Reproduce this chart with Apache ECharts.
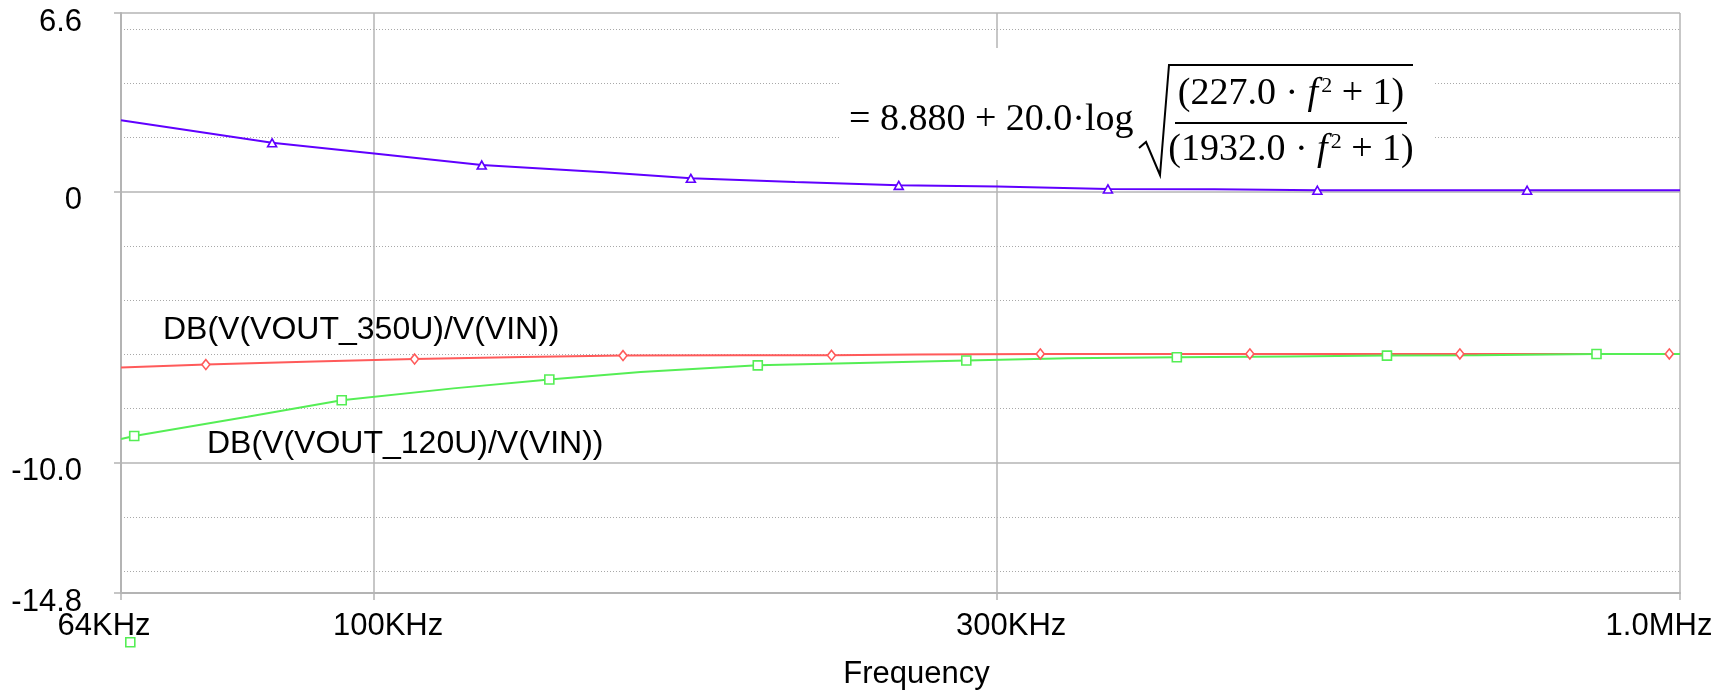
<!DOCTYPE html>
<html><head><meta charset="utf-8">
<script src="https://cdn.jsdelivr.net/npm/echarts@6/dist/echarts.min.js"></script>
<style>html,body{margin:0;padding:0;background:#fff}#c{width:1730px;height:693px}</style>
</head><body><div id="c"></div>
<script>
// ---- axis ticks ----
const xTickValues = [64000, 100000, 300000, 1000000];
const xTickLabels = ['64KHz', '100KHz', '300KHz', '1.0MHz'];
const yTickValues = [6.6, 0, -10, -14.8];
const yTickLabels = ['6.6', '0', '-10.0', '-14.8'];
const yMinorGrid = [6, 4, 2, -2, -4, -6, -8, -12, -14];

// ---- series data (frequency in Hz, value in dB) ----
const freqBlue = [64000, 83540, 100000, 120900, 150000, 174800, 210000, 252200, 300000, 364700, 440000, 527600, 640000, 763700, 1000000];
const valBlue  = [2.64, 1.81, 1.42, 0.99, 0.72, 0.50, 0.36, 0.24, 0.20, 0.11, 0.10, 0.06, 0.06, 0.06, 0.06];
const markBlue = [83540, 120900, 174800, 252200, 364700, 527600, 763700];

const freqRed = [64000, 74330, 90000, 107400, 130000, 155100, 190000, 224000, 260000, 323700, 468400, 678300, 981300, 1000000];
const valRed  = [-6.48, -6.37, -6.26, -6.17, -6.09, -6.04, -6.03, -6.03, -6.00, -5.98, -5.98, -5.98, -5.98, -5.98];
const markRed = [74330, 107400, 155100, 224000, 323700, 468400, 678300, 981300];

const freqGreen = [64000, 65510, 80000, 94450, 115000, 136200, 160000, 196700, 240000, 284100, 340000, 411800, 500000, 596500, 700000, 863100, 1000000];
const valGreen  = [-9.12, -9.01, -8.30, -7.69, -7.25, -6.92, -6.65, -6.40, -6.30, -6.22, -6.14, -6.10, -6.07, -6.04, -6.03, -5.98, -5.98];
const markGreen = [65510, 94450, 136200, 196700, 284100, 411800, 596500, 863100];

const nameBlue = '8.880 + 20.0·log sqrt((227.0·f²+1)/(1932.0·f²+1))';
const nameRed = 'DB(V(VOUT_350U)/V(VIN))';
const nameGreen = 'DB(V(VOUT_120U)/V(VIN))';

const FONT = '"Liberation Sans", Arial, sans-serif';
const SERIF = '"Liberation Serif", "Times New Roman", serif';
const GRID = '#b4b4b4';

function nearestIdx(v, arr, useLog) {
  let best = 0, bd = Infinity;
  arr.forEach((t, i) => {
    const d = useLog ? Math.abs(Math.log10(v) - Math.log10(t)) : Math.abs(v - t);
    if (d < bd) { bd = d; best = i; }
  });
  return best;
}

function mkSeries(name, freqs, vals, marks, color, symbol, size) {
  return {
    type: 'line', name,
    data: freqs.map((f, i) => [f, vals[i]]),
    showSymbol: true, showAllSymbol: true,
    symbol: (val) => marks.includes(val[0]) ? symbol : 'none',
    symbolSize: size,
    lineStyle: { color, width: 2 },
    itemStyle: { color: '#fff', borderColor: color, borderWidth: 1.6 },
    emphasis: { disabled: true },
    animation: false, z: 3
  };
}

const xShift = [[0, 34, 0, 0], [0, 0, 0, 28], [0, 0, 0, 28], [0, 42, 0, 0]];
const xRich = {};
xShift.forEach((p, i) => { xRich['l' + i] = { padding: p, fontSize: 31, fontFamily: FONT, color: '#000' }; });

const chart = echarts.init(document.getElementById('c'), null, { renderer: 'canvas' });
chart.setOption({
  animation: false,
  backgroundColor: '#fff',
  grid: { left: 121, right: 50, top: 13, bottom: 100, outerBoundsMode: 'none' },
  legend: {
    data: [nameGreen], left: 125, top: 637, itemWidth: 9, itemHeight: 9, icon: 'rect',
    formatter: () => '', selectedMode: false, padding: 0, itemGap: 0,
    itemStyle: { color: '#fff', borderColor: '#55ee55', borderWidth: 1.6 },
    textStyle: { fontSize: 1 }
  },
  xAxis: {
    type: 'log', logBase: 10, min: 64000, max: 1000000,
    axisLine: { show: true, onZero: false, lineStyle: { color: GRID, width: 2 } },
    axisTick: { show: true, inside: false, length: 7, customValues: xTickValues, lineStyle: { color: GRID, width: 1.5 } },
    axisLabel: {
      customValues: xTickValues, margin: 18, color: '#000', fontSize: 31, fontFamily: FONT,
      formatter: (v) => { const i = nearestIdx(v, xTickValues, true); return '{l' + i + '|' + xTickLabels[i] + '}'; },
      rich: xRich
    },
    splitLine: { show: true, lineStyle: { color: GRID, width: 1.5 } },
    minorTick: { show: false }, minorSplitLine: { show: false },
    name: 'Frequency', nameLocation: 'middle', nameGap: 66,
    nameTextStyle: { fontSize: 31, fontFamily: FONT, color: '#000', padding: [0, 0, 0, 32] }
  },
  yAxis: [{
    type: 'value', min: -14.8, max: 6.6,
    axisLine: { show: true, onZero: false, lineStyle: { color: GRID, width: 2 } },
    axisTick: { show: true, inside: false, length: 7, customValues: yTickValues, lineStyle: { color: GRID, width: 1.5 } },
    axisLabel: {
      customValues: yTickValues, margin: 39, color: '#000', fontSize: 31, fontFamily: FONT,
      formatter: (v) => '{a|' + yTickLabels[nearestIdx(v, yTickValues, false)] + '}',
      rich: { a: { padding: [18, 0, 0, 0], fontSize: 31, fontFamily: FONT, color: '#000' } }
    },
    splitLine: { show: true, lineStyle: { color: GRID, width: 1.5 } }
  }, {
    type: 'value', min: -14.8, max: 6.6, position: 'left',
    axisLine: { show: false },
    axisTick: { show: false, customValues: yMinorGrid },
    axisLabel: { show: false, customValues: yMinorGrid },
    splitLine: { show: true, lineStyle: { color: '#a8a8a8', width: 1, type: [1, 2] } }
  }],
  series: [
    mkSeries(nameBlue, freqBlue, valBlue, markBlue, '#6000ff', 'triangle', [9, 8]),
    mkSeries(nameRed, freqRed, valRed, markRed, '#ff5a5a', 'diamond', [8, 10]),
    mkSeries(nameGreen, freqGreen, valGreen, markGreen, '#55ee55', 'rect', [9, 9])
  ],
  graphic: { elements: [
    { type: 'rect', z: 1, shape: { x: 841, y: 48, width: 593, height: 132 }, style: { fill: '#fff' } },
    { type: 'text', z: 10, x: 849, y: 120,
      style: { text: '= 8.880 + 20.0·log', font: '38px ' + SERIF, fill: '#000', verticalAlign: 'middle', textVerticalAlign: 'middle' } },
    { type: 'polyline', z: 10, shape: { points: [[1139, 148], [1146, 142], [1160, 175], [1169, 65], [1413, 65]] },
      style: { stroke: '#000', lineWidth: 2, fill: null } },
    { type: 'text', z: 10, x: 1291, y: 94,
      style: { text: '{n|(227.0 · }{i|f}{s|2}{n| + 1)}', fill: '#000', align: 'center', verticalAlign: 'middle',
        textAlign: 'center', textVerticalAlign: 'middle',
        rich: { n: { font: '38px ' + SERIF }, i: { font: 'italic 38px ' + SERIF, padding: [0, 3, 0, 0] }, s: { font: '22px ' + SERIF, verticalAlign: 'top' } } } },
    { type: 'line', z: 10, shape: { x1: 1175, y1: 123, x2: 1407, y2: 123 }, style: { stroke: '#000', lineWidth: 2 } },
    { type: 'text', z: 10, x: 1291, y: 150,
      style: { text: '{n|(1932.0 · }{i|f}{s|2}{n| + 1)}', fill: '#000', align: 'center', verticalAlign: 'middle',
        textAlign: 'center', textVerticalAlign: 'middle',
        rich: { n: { font: '38px ' + SERIF }, i: { font: 'italic 38px ' + SERIF, padding: [0, 3, 0, 0] }, s: { font: '22px ' + SERIF, verticalAlign: 'top' } } } },
    { type: 'text', z: 10, x: 163, y: 330,
      style: { text: nameRed, font: '32px ' + FONT, fill: '#000', verticalAlign: 'middle', textVerticalAlign: 'middle' } },
    { type: 'text', z: 10, x: 207, y: 444,
      style: { text: nameGreen, font: '32px ' + FONT, fill: '#000', verticalAlign: 'middle', textVerticalAlign: 'middle' } }
  ] }
});
</script>
</body></html>
